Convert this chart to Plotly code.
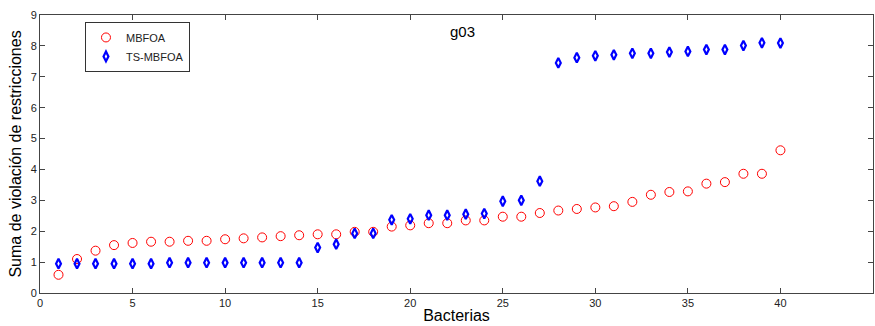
import plotly.graph_objects as go

bacterias = list(range(1, 41))

mbfoa = [0.59, 1.10, 1.37, 1.55, 1.62, 1.66, 1.66, 1.69, 1.69, 1.74,
         1.77, 1.80, 1.84, 1.87, 1.90, 1.90, 1.98, 1.98, 2.15, 2.19,
         2.26, 2.26, 2.35, 2.35, 2.47, 2.47, 2.59, 2.67, 2.72, 2.77,
         2.81, 2.95, 3.18, 3.27, 3.29, 3.54, 3.59, 3.86, 3.86, 4.62]

ts_mbfoa = [0.95, 0.95, 0.95, 0.95, 0.95, 0.95, 0.98, 0.98, 0.98, 0.98,
            0.98, 0.98, 0.98, 0.98, 1.47, 1.58, 1.93, 1.93, 2.37, 2.40,
            2.52, 2.52, 2.55, 2.57, 2.97, 3.00, 3.62, 7.45, 7.62, 7.68,
            7.71, 7.76, 7.76, 7.80, 7.82, 7.88, 7.88, 8.01, 8.10, 8.09]

x_ticks = [0, 5, 10, 15, 20, 25, 30, 35, 40, 45]
y_ticks = [0, 1, 2, 3, 4, 5, 6, 7, 8, 9]

FONT = "Liberation Sans, Arial, sans-serif"

fig = go.Figure()
fig.add_trace(go.Scatter(
    x=bacterias, y=mbfoa, mode="markers", name="MBFOA",
    marker=dict(symbol="circle-open", size=9, color="#ff0000",
                line=dict(width=1, color="#ff0000")),
))
fig.add_trace(go.Scatter(
    x=bacterias, y=ts_mbfoa, mode="markers", name="TS-MBFOA",
    marker=dict(symbol="diamond-tall-open", size=7, color="#0000ff",
                line=dict(width=2.2, color="#0000ff")),
))

axis_common = dict(
    showgrid=False, zeroline=False, showline=True, mirror="ticks",
    linecolor="#444444", linewidth=1, ticks="inside", ticklen=5,
    tickcolor="#444444", tickfont=dict(family=FONT, size=11, color="#222222"),
)

fig.update_xaxes(range=[0, 45], tickvals=x_ticks,
                 title=dict(text="Bacterias", font=dict(family=FONT, size=16, color="#000000"),
                            standoff=1),
                 **axis_common)
fig.update_yaxes(range=[0, 9], tickvals=y_ticks,
                 title=dict(text="Suma de violación de restricciones",
                            font=dict(family=FONT, size=16, color="#000000"), standoff=5),
                 **axis_common)

fig.add_annotation(x=22.8, y=8.45, xref="x", yref="y", text="g03", showarrow=False,
                   font=dict(family=FONT, size=15, color="#000000"))

fig.update_layout(
    width=875, height=326,
    margin=dict(l=40, r=2, t=15, b=33),
    paper_bgcolor="white", plot_bgcolor="white",
    showlegend=True,
    legend=dict(x=0.054, y=0.975, xanchor="left", yanchor="top",
                bgcolor="white", bordercolor="#333333", borderwidth=1,
                font=dict(family=FONT, size=11, color="#222222"),
                itemwidth=30, tracegroupgap=0),
)

fig.write_html("out.html")
